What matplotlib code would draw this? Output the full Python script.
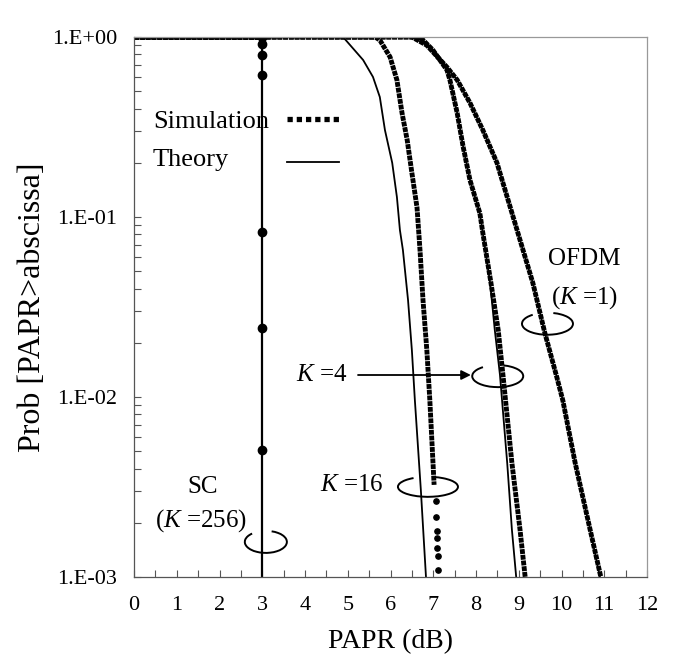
import matplotlib
matplotlib.use("Agg")
import matplotlib.pyplot as plt
from matplotlib.patches import Arc
from matplotlib.lines import Line2D
from matplotlib.ticker import FixedLocator, MultipleLocator, LogLocator, NullFormatter

plt.rcParams['font.family'] = ['Liberation Serif', 'DejaVu Serif']
plt.rcParams['mathtext.fontset'] = 'custom'
plt.rcParams['mathtext.rm'] = 'Liberation Serif'
plt.rcParams['mathtext.it'] = 'Liberation Serif:italic'

# ---------------- data ----------------
# OFDM (K=1)
ofdm_th_x = [0, 6.50, 6.85, 7.11, 7.32, 7.56, 7.86, 8.16, 8.49, 8.73, 8.96, 9.33, 9.61, 9.89, 10.03, 10.32, 10.67, 10.90]
ofdm_th_p = [1, 1, 0.90, 0.77, 0.68, 0.577, 0.430, 0.304, 0.200, 0.129, 0.0847, 0.043, 0.0227, 0.0129, 0.0096, 0.0043, 0.00183, 0.001]
ofdm_sim_x = [0, 6.50, 6.85, 7.11, 7.32, 7.56, 7.86, 8.16, 8.49, 8.73, 8.96, 9.33, 9.61, 9.89, 10.03, 10.32, 10.67, 10.92]
ofdm_sim_p = [1, 1, 0.90, 0.77, 0.68, 0.577, 0.430, 0.304, 0.200, 0.129, 0.0847, 0.043, 0.0227, 0.0129, 0.0096, 0.0043, 0.00183, 0.001]

# K=4
k4_th_x = [0, 6.69, 6.99, 7.32, 7.39, 7.56, 7.70, 7.86, 8.09, 8.16, 8.33, 8.44, 8.56, 8.73, 8.84, 8.94]
k4_th_p = [1, 1, 0.847, 0.656, 0.577, 0.378, 0.245, 0.160, 0.105, 0.0815, 0.043, 0.0235, 0.0133, 0.0043, 0.00183, 0.001]
k4_sim_x = [0, 6.69, 6.99, 7.32, 7.39, 7.56, 7.70, 7.86, 8.09, 8.16, 8.35, 8.52, 8.63, 8.84, 9.03, 9.15]
k4_sim_p = [1, 1, 0.847, 0.656, 0.577, 0.378, 0.245, 0.160, 0.105, 0.0815, 0.043, 0.0235, 0.0133, 0.0043, 0.00183, 0.001]

# K=16
k16_th_x = [0, 4.89, 5.36, 5.59, 5.75, 5.87, 6.04, 6.15, 6.22, 6.29, 6.41, 6.50, 6.57, 6.71, 6.83]
k16_th_p = [1, 1, 0.745, 0.60, 0.464, 0.304, 0.200, 0.129, 0.0847, 0.0656, 0.0346, 0.0182, 0.0096, 0.00304, 0.001]
k16_sim_x = [0, 5.64, 5.75, 5.99, 6.15, 6.27, 6.39, 6.50, 6.62, 6.69, 6.76, 6.85, 6.92, 7.02]
k16_sim_p = [1, 1, 0.962, 0.774, 0.577, 0.378, 0.268, 0.176, 0.113, 0.0656, 0.0346, 0.0182, 0.0096, 0.00325]
k16_tail_x = [7.06, 7.07, 7.08, 7.08, 7.09, 7.10, 7.11]
k16_tail_p = [0.00265, 0.00215, 0.00180, 0.00165, 0.00145, 0.00130, 0.00110]

# SC (K=256)
sc_th_x = [0, 3, 3]
sc_th_p = [1, 1, 0.001]
sc_sim_x = [3, 3, 3, 3, 3, 3, 3]
sc_sim_p = [1.0, 0.915, 0.79, 0.615, 0.0826, 0.0242, 0.00508]
sc_top_x = [0, 3]
sc_top_p = [1, 1]

x_ticks = list(range(0, 13))
y_ticks = [1e-3, 1e-2, 1e-1, 1]
y_tick_labels = ['1.E-03', '1.E-02', '1.E-01', '1.E+00']

# ---------------- figure ----------------
W, H = 685, 667
fig = plt.figure(figsize=(W / 100, H / 100), dpi=100)
ax = fig.add_axes([134 / W, 90 / H, 513 / W, 540 / H])

sim_style = dict(color='black', lw=3.5, linestyle=(0, (1, 0.18)), dash_capstyle='butt')
th_style = dict(color='black', lw=1.3)

for xs, ps in [(ofdm_th_x, ofdm_th_p), (k4_th_x, k4_th_p), (k16_th_x, k16_th_p)]:
    ax.plot(xs, ps, **th_style)
ax.plot(sc_th_x, sc_th_p, color='black', lw=1.6)
for xs, ps in [(ofdm_sim_x, ofdm_sim_p), (k4_sim_x, k4_sim_p), (k16_sim_x, k16_sim_p), (sc_top_x, sc_top_p)]:
    ax.plot(xs, ps, **sim_style)
ax.plot(k16_tail_x, k16_tail_p, linestyle='none', marker='o', ms=3.8, color='black')
ax.plot(sc_sim_x, sc_sim_p, linestyle='none', marker='o', ms=6, color='black')

ax.set_yscale('log')
ax.set_xlim(0, 12)
ax.set_ylim(1e-3, 1)
ax.xaxis.set_major_locator(FixedLocator(x_ticks))
ax.xaxis.set_minor_locator(MultipleLocator(0.5))
ax.yaxis.set_major_locator(FixedLocator(y_ticks))
ax.set_yticklabels(y_tick_labels)
ax.yaxis.set_minor_locator(LogLocator(base=10, subs=range(2, 10)))
ax.yaxis.set_minor_formatter(NullFormatter())

ax.tick_params(which='both', direction='in', length=5, width=0.8, color='#555555',
               labelsize=16, top=False, right=False)
ax.tick_params(axis='x', pad=14)
ax.tick_params(axis='y', pad=12)

for side in ['left', 'bottom']:
    ax.spines[side].set_color('#555555')
    ax.spines[side].set_linewidth(0.9)
for side in ['top', 'right']:
    ax.spines[side].set_color('#999999')
    ax.spines[side].set_linewidth(0.9)

ax.set_xlabel('PAPR (dB)', fontsize=20, labelpad=10)
ax.set_ylabel('Prob [PAPR>abscissa]', fontsize=23, labelpad=4)

# legend drawn by hand: text left, sample on the right
leg_fs = 19
ax.text(0.037, 0.8426, 'Simulation', transform=ax.transAxes, fontsize=leg_fs, ha='left', va='center')
ax.text(0.037, 0.772, 'Theory', transform=ax.transAxes, fontsize=leg_fs, ha='left', va='center')
ax.add_line(Line2D([0.298, 0.4016], [0.848, 0.848], transform=ax.transAxes, color='black',
                   lw=3.8, linestyle=(0, (1, 0.75)), dash_capstyle='butt'))
ax.add_line(Line2D([0.298, 0.399], [0.7685, 0.7685], transform=ax.transAxes, color='black', lw=1.3))

# annotations
txt = dict(fontsize=18, ha='center', va='center')
ax.text(10.53, 0.0585, 'OFDM', **txt)
ax.text(10.55, 0.0355, r'($K$ =1)', **txt)
ax.text(4.40, 0.01325, r'$K$ =4', **txt)
ax.text(5.10, 0.00324, r'$K$ =16', **txt)
ax.text(1.61, 0.00316, 'SC', **txt)
ax.text(1.57, 0.00205, r'($K$ =256)', **txt)

ax.annotate('', xy=(7.88, 0.01325), xytext=(5.24, 0.01325),
            arrowprops=dict(arrowstyle='-|>', color='black', lw=1.3, mutation_scale=14,
                            shrinkA=0, shrinkB=0))

for cx, cy, w, h in [(0.806, 0.469, 0.0994, 0.0407), (0.709, 0.372, 0.0994, 0.0407),
                     (0.573, 0.167, 0.117, 0.037), (0.257, 0.065, 0.082, 0.0407)]:
    ax.add_patch(Arc((cx, cy), w, h, theta1=150, theta2=420, transform=ax.transAxes,
                     color='black', lw=1.4))

fig.savefig('out.png', dpi=100)
